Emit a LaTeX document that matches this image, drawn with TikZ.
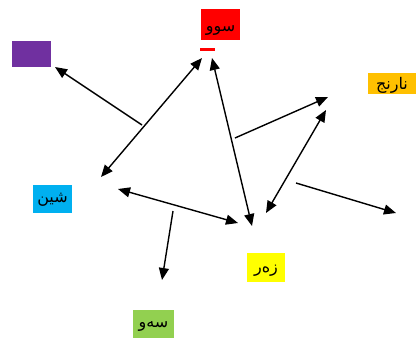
\documentclass[tikz,border=0pt]{standalone}
\usepackage{fontspec}
\TeXXeTstate=1
\newfontfamily\arabicfont[Script=Arabic]{DejaVu Sans}
\usetikzlibrary{arrows.meta}
\definecolor{cpurple}{HTML}{7030A0}
\definecolor{cred}{HTML}{FF0000}
\definecolor{corange}{HTML}{FFC000}
\definecolor{cblue}{HTML}{00B0F0}
\definecolor{cyellow}{HTML}{FFFF00}
\definecolor{cgreen}{HTML}{92D050}
\begin{document}
\begin{tikzpicture}[x=1pt,y=-1pt,
  box/.style={inner sep=0pt, outer sep=0pt},
  lbl/.style 2 args={path picture={\node[inner sep=0pt, font=\arabicfont\fontsize{16}{18}\selectfont, text=black] at ([#2]path picture bounding box.center) {\beginR #1\endR};}},
  conn/.style={line width=1.4pt, -{Triangle[length=12pt,width=10pt]}},
  dconn/.style={line width=1.4pt, {Triangle[length=12pt,width=10pt]}-{Triangle[length=12pt,width=10pt]}}]
\useasboundingbox (0,0) rectangle (416,338);
\clip (0,0) rectangle (416,338);
\fill[white] (0,0) rectangle (416,338);
% boxes
\node[box, fill=cpurple, minimum width=39pt, minimum height=26pt] (purple) at (31.5,54) {};
\node[box, fill=cred, minimum width=39pt, minimum height=31pt, lbl={سوو}{shift={(0pt,-6pt)}}] (red) at (220.5,24.5) {};
\node[box, fill=cred, minimum width=15pt, minimum height=3pt] (redbar) at (207.5,49.5) {};
\node[box, fill=corange, minimum width=48pt, minimum height=21pt, lbl={نارنج}{shift={(0pt,-2pt)}}] (orange) at (392,83.5) {};
\node[box, fill=cblue, minimum width=39pt, minimum height=28pt, lbl={شین}{shift={(0pt,-1pt)}}] (blue) at (52.5,199) {};
\node[box, fill=cyellow, minimum width=38pt, minimum height=29pt, lbl={زەر}{shift={(0pt,-3pt)}}] (yellow) at (266,267.5) {};
\node[box, fill=cgreen, minimum width=41pt, minimum height=30pt, lbl={سەو}{shift={(0pt,-2pt)}}] (green) at (153.5,325) {};
% connector end points
\coordinate (a1s) at (142,125);
\coordinate (a1e) at (55,67);
\coordinate (a2s) at (101,177);
\coordinate (a2e) at (202,58);
\coordinate (a3s) at (212,58);
\coordinate (a3e) at (252,226);
\coordinate (a4s) at (235,138);
\coordinate (a4e) at (328,97);
\coordinate (a5s) at (266,213);
\coordinate (a5e) at (326,110);
\coordinate (a6s) at (296,183);
\coordinate (a6e) at (396,213);
\coordinate (a7s) at (118,189);
\coordinate (a7e) at (238,223);
\coordinate (a8s) at (173,211);
\coordinate (a8e) at (162,280);
% connectors
\draw[conn] (a1s) -- (a1e);
\draw[dconn] (a2s) -- (a2e);
\draw[dconn] (a3s) -- (a3e);
\draw[conn] (a4s) -- (a4e);
\draw[dconn] (a5s) -- (a5e);
\draw[conn] (a6s) -- (a6e);
\draw[dconn] (a7s) -- (a7e);
\draw[conn] (a8s) -- (a8e);
\end{tikzpicture}
\end{document}
